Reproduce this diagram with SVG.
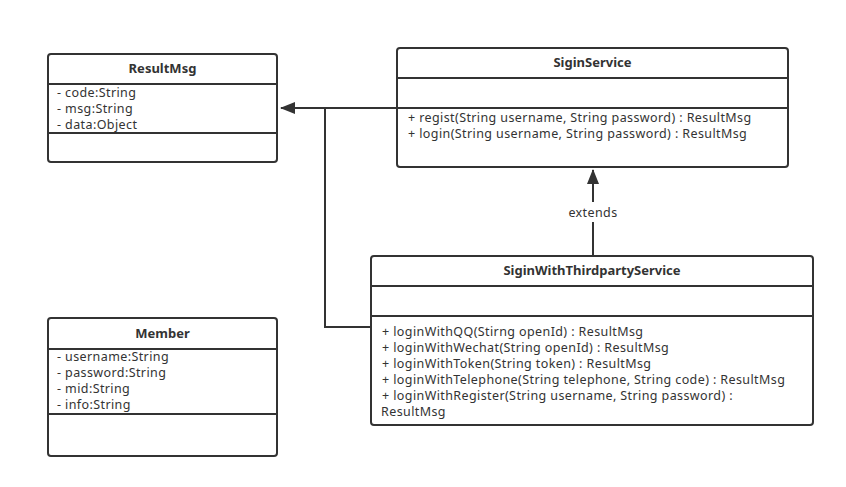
<svg xmlns="http://www.w3.org/2000/svg" width="846" height="487" viewBox="0 0 846 487">
<defs>
<style>
.box{fill:#fff;stroke:#333;stroke-width:2}
.div{stroke:#333;stroke-width:2}
.t{font-family:"Noto Sans","Liberation Sans",sans-serif;font-size:12.5px;letter-spacing:0.4px;fill:#333}
.h{font-family:"Noto Sans","Liberation Sans",sans-serif;font-size:13px;font-weight:bold;fill:#333;text-anchor:middle}
.edge{fill:none;stroke:#333;stroke-width:2}
</style>
<marker id="arr" markerWidth="16" markerHeight="12" refX="14" refY="6" orient="auto" markerUnits="userSpaceOnUse">
<path d="M0,0 L15,6 L0,12 Z" fill="#333"/>
</marker>
</defs>
<rect width="846" height="487" fill="#fff"/>
<g id="connectors">
<path class="edge" d="M397,108 L281,108" marker-end="url(#arr)"/>
<path class="edge" d="M371,327 L325,327 L325,108"/>
<path class="edge" d="M593,256 L593,222"/>
<path class="edge" d="M593,202 L593,170" marker-end="url(#arr)"/>
<text class="t" x="593" y="217" text-anchor="middle">extends</text>
</g>
<g id="ResultMsg">
<rect class="box" x="48" y="54" width="229" height="108" rx="3"/>
<line class="div" x1="48" y1="84" x2="277" y2="84"/>
<line class="div" x1="48" y1="133" x2="277" y2="133"/>
<text class="h" x="162.5" y="73">ResultMsg</text>
<text class="t" x="57" y="97">- code:String</text>
<text class="t" x="57" y="113">- msg:String</text>
<text class="t" x="57" y="129">- data:Object</text>
</g>
<g id="SiginService">
<rect class="box" x="397" y="48" width="391" height="119" rx="3"/>
<line class="div" x1="397" y1="78" x2="788" y2="78"/>
<line class="div" x1="397" y1="108" x2="788" y2="108"/>
<text class="h" x="592.5" y="67">SiginService</text>
<text class="t" x="408" y="122">+ regist(String username, String password) : ResultMsg</text>
<text class="t" x="408" y="138">+ login(String username, String password) : ResultMsg</text>
</g>
<g id="SiginWithThirdpartyService">
<rect class="box" x="371" y="256" width="442" height="169" rx="3"/>
<line class="div" x1="371" y1="286" x2="813" y2="286"/>
<line class="div" x1="371" y1="316" x2="813" y2="316"/>
<text class="h" x="592" y="275">SiginWithThirdpartyService</text>
<text class="t" x="382" y="336">+ loginWithQQ(Stirng openId) : ResultMsg</text>
<text class="t" x="382" y="352">+ loginWithWechat(String openId) : ResultMsg</text>
<text class="t" x="382" y="368">+ loginWithToken(String token) : ResultMsg</text>
<text class="t" x="382" y="384">+ loginWithTelephone(String telephone, String code) : ResultMsg</text>
<text class="t" x="382" y="400">+ loginWithRegister(String username, String password) :</text>
<text class="t" x="381" y="416">ResultMsg</text>
</g>
<g id="Member">
<rect class="box" x="48" y="318" width="229" height="138" rx="3"/>
<line class="div" x1="48" y1="349" x2="277" y2="349"/>
<line class="div" x1="48" y1="414" x2="277" y2="414"/>
<text class="h" x="162.5" y="338">Member</text>
<text class="t" x="57" y="361">- username:String</text>
<text class="t" x="57" y="377">- password:String</text>
<text class="t" x="57" y="393">- mid:String</text>
<text class="t" x="57" y="409">- info:String</text>
</g>
</svg>
